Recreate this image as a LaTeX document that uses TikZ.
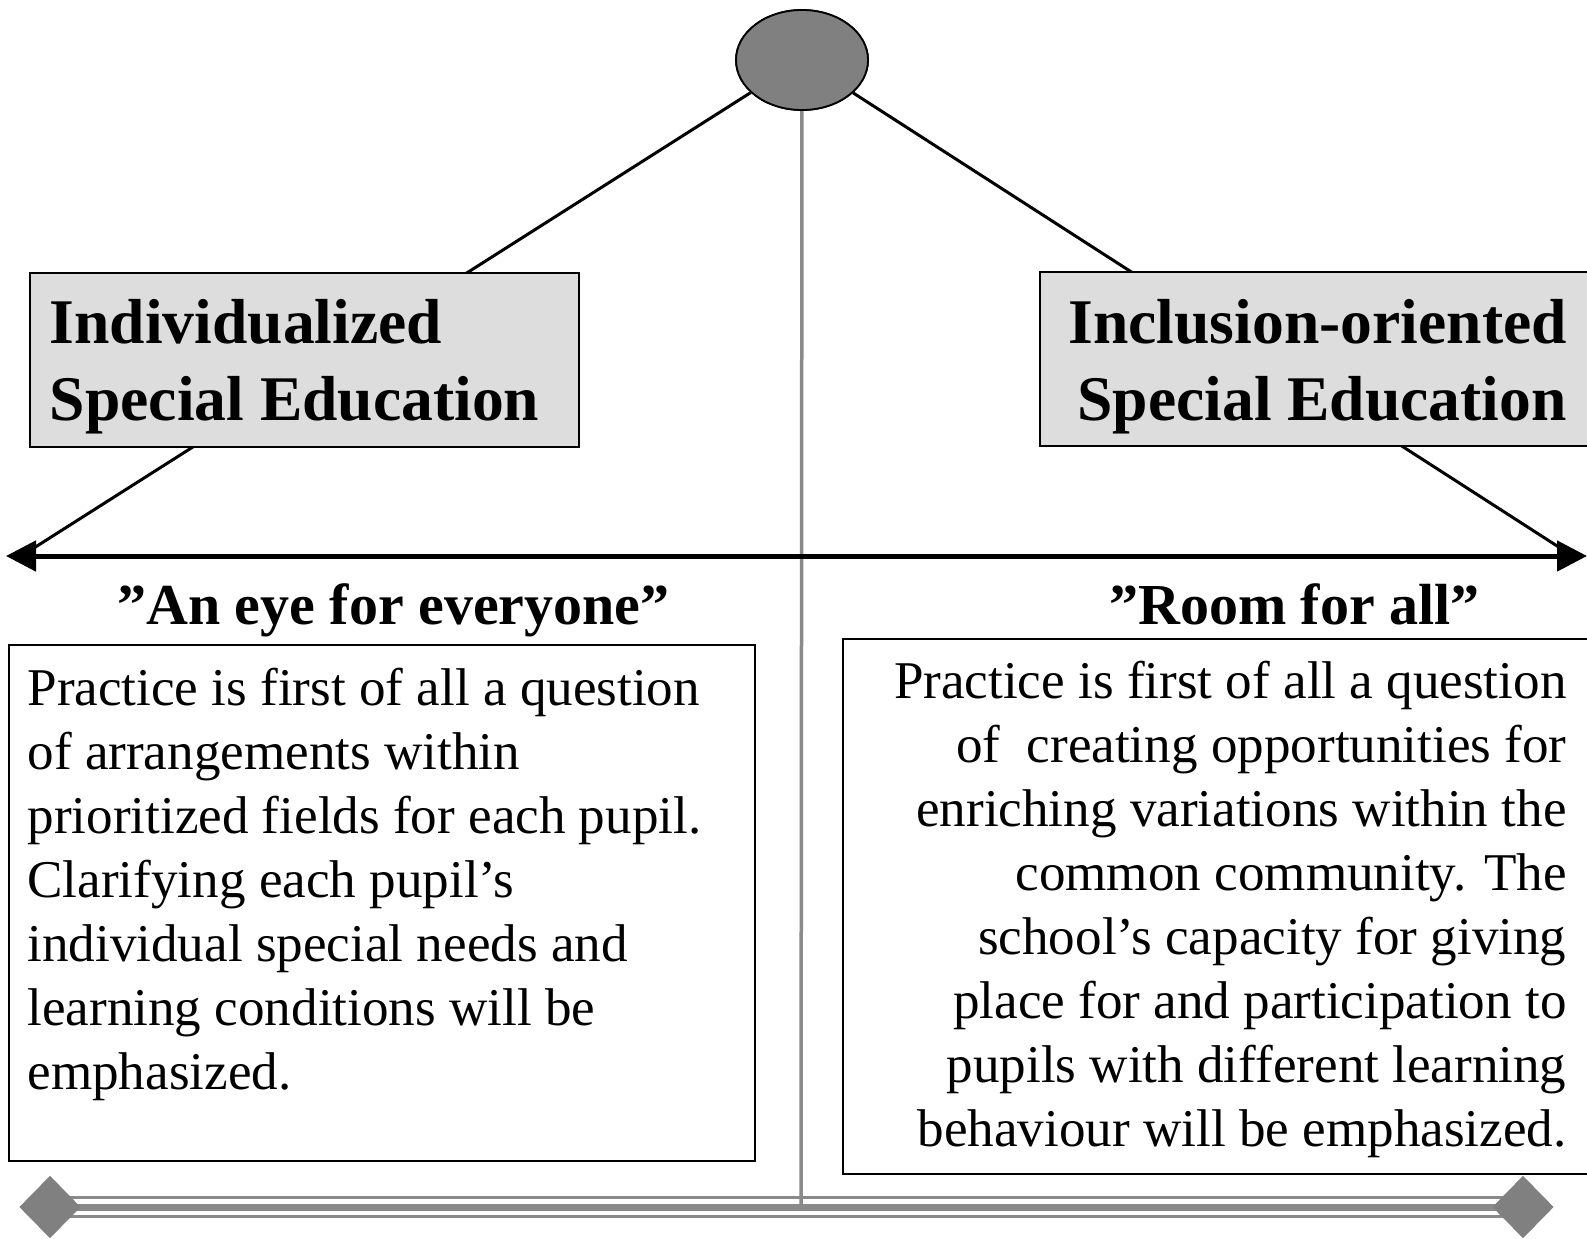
\documentclass[tikz,border=0pt]{standalone}
\usepackage{fontspec}
\setmainfont{Liberation Serif}
\usetikzlibrary{shapes.geometric,arrows.meta}
\definecolor{midgray}{HTML}{808080}
\definecolor{linegray}{HTML}{8A8A8A}
\definecolor{boxgray}{HTML}{DDDDDD}
\tikzset{
  titlebox/.style={draw=black, line width=1.8pt, fill=boxgray, inner sep=0pt},
  textbox/.style={draw=black, line width=1.8pt, fill=white, inner sep=0pt},
  titletext/.style={font=\fontsize{63.6}{76.3}\selectfont\bfseries, inner sep=0pt},
  headtext/.style={font=\fontsize{58}{70}\selectfont\bfseries, inner sep=0pt},
  bodytext/.style={font=\fontsize{53.1}{64}\selectfont, inner sep=0pt},
  diag/.style={line width=3pt, black},
  enddiamond/.style={diamond, fill=midgray, inner sep=0pt, minimum width=61pt, minimum height=62pt},
  topoval/.style={ellipse, draw=black, line width=1.8pt, fill=midgray, minimum width=132pt, minimum height=100pt, inner sep=0pt},
  rail/.style={linegray}
}
\begin{document}
\begin{tikzpicture}[x=1pt,y=-1pt]
\useasboundingbox[fill=white] (0,0) rectangle (1587,1239);

% top ellipse and named points
\node[topoval] (top) at (802,60) {};
\coordinate (la) at (26,553);
\coordinate (ra) at (1568,553);
\coordinate (al) at (6,556);
\coordinate (ar) at (1587,556);
\coordinate (vb) at (801,1206);

% bottom diamonds
\node[enddiamond] (dl) at (50,1207) {};
\node[enddiamond] (dr) at (1523,1207) {};

% rails between diamonds
\draw[rail, line width=3pt] ([yshift=-9.5pt]dl.center) -- ([yshift=-9.5pt]dr.center);
\draw[rail, line width=7pt] (dl.center) -- (dr.center);
\draw[rail, line width=3pt] ([yshift=9.5pt]dl.center) -- ([yshift=9.5pt]dr.center);
\node[enddiamond] at (dl.center) {};
\node[enddiamond] at (dr.center) {};

% vertical gray line
\draw[linegray, line width=3.5pt] (top) -- (vb);

% diagonals
\draw[diag] (top) -- (la);
\draw[diag] (top) -- (ra);

% main double arrow
\draw[line width=5pt, {Triangle[length=30pt 0 0, width=30pt 0 0]}-{Triangle[length=30pt 0 0, width=30pt 0 0]}] (al) -- (ar);

% redraw ellipse on top
\node[topoval] at (top.center) {};

% title boxes
\node[titlebox, anchor=north west, minimum width=548.6pt, minimum height=174pt] (lbox) at (29.4,272) {};
\node[titlebox, anchor=north west, minimum width=560pt, minimum height=174pt] (rbox) at (1039,271) {};
\node[titletext, anchor=base west, align=left] (ltitle) at (49.6,420) {Individualized\\Special Education};
\node[titletext, anchor=base east, align=right] (rtitle) at (1567,420) {Inclusion-oriented\\Special Education};

% headings
\node[headtext, anchor=base] (lhead) at (393.5,624) {”An eye for everyone”};
\node[headtext, anchor=base] (rhead) at (1294.5,624) {”Room for all”};

% text boxes
\node[textbox, anchor=north west, minimum width=746pt, minimum height=516pt] (ltbox) at (8,644) {};
\node[textbox, anchor=north west, minimum width=760pt, minimum height=535pt] (rtbox) at (842,638) {};

\node[bodytext, anchor=base west, align=left] (lbody) at (27.3,1089.4) {Practice is first of all a question\\of arrangements within\\prioritized fields for each pupil.\\Clarifying each pupil’s\\individual special needs and\\learning conditions will be\\emphasized.};
\node[bodytext, anchor=base east, align=right] (rbody) at (1566.7,1146.3) {Practice is first of all a question\\of\ \ creating opportunities for\\enriching variations within the\\common community. The\\school’s capacity for giving\\place for and participation to\\pupils with different learning\\behaviour will be emphasized.};
\end{tikzpicture}
\end{document}
